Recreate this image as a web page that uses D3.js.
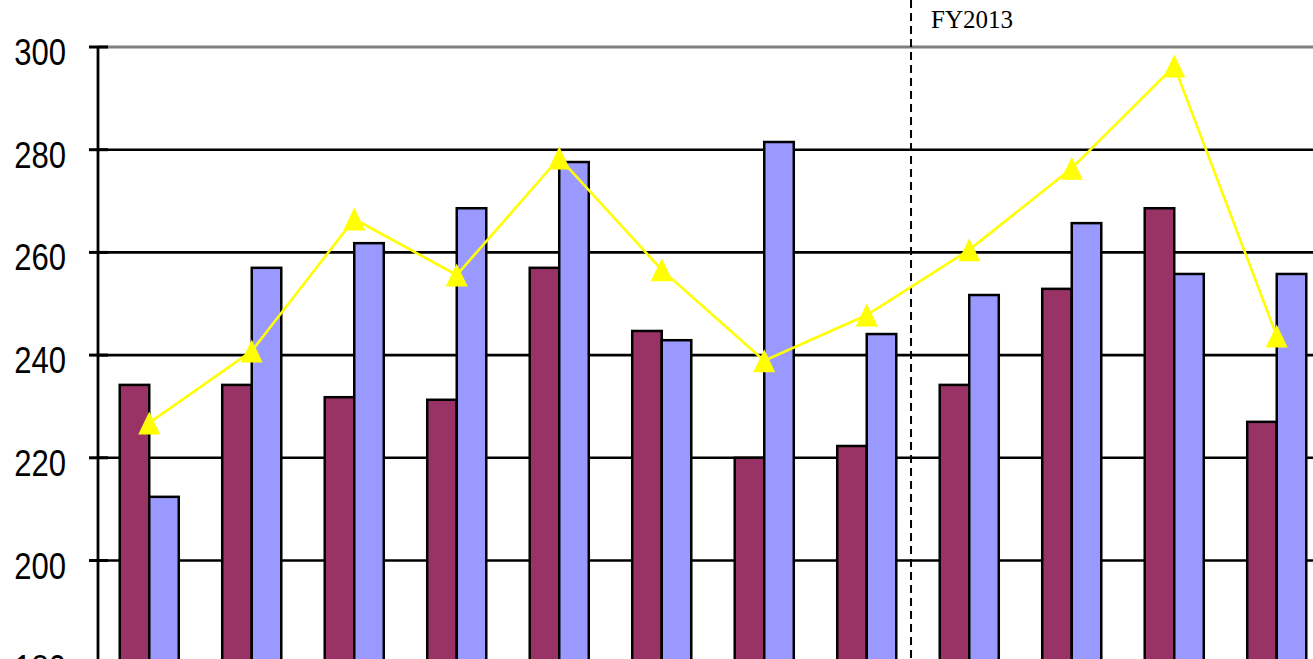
<!DOCTYPE html>
<html>
<head>
<meta charset="utf-8">
<script src="https://cdn.jsdelivr.net/npm/d3@7"></script>
<style>
  html, body { margin: 0; padding: 0; background: #ffffff; overflow: hidden; }
</style>
</head>
<body>
<div id="chart_div"></div>
<script>
// data (category labels are cut off below the visible area)
const categories = ["Aug", "Sep", "Oct", "Nov", "Dec", "Jan", "Feb", "Mar", "Apr", "May", "Jun", "Jul"];
const seriesA = [234.2, 234.2, 231.8, 231.3, 257.0, 244.7, 220.0, 222.3, 234.2, 252.9, 268.6, 227.0];
const seriesB = [212.4, 257.0, 261.8, 268.6, 277.6, 242.9, 281.5, 244.1, 251.7, 265.7, 255.8, 255.8];
const seriesLine = [226.8, 240.8, 266.5, 255.6, 278.4, 256.6, 238.9, 247.8, 260.5, 276.4, 296.3, 243.7];
const yTicks = [180, 200, 220, 240, 260, 280, 300];
const fyLabel = "FY2013";
const fyStartIndex = 8; // first category of FY2013

const width = 1313, height = 659;
const plot = { left: 98, top: 47, right: 1328, bottom: 663.2 };
const colors = { a: "#993366", b: "#9999ff", line: "#ffff00", grid: "#000000", topGrid: "#808080" };

const svg = d3.select("#chart_div")
  .append("svg")
  .attr("width", width)
  .attr("height", height);

const x = d3.scaleBand()
  .domain(categories)
  .range([plot.left, plot.right])
  .paddingInner(0.424)
  .paddingOuter(0.212);

const xSub = d3.scaleBand()
  .domain(["a", "b"])
  .range([0, x.bandwidth()]);

const y = d3.scaleLinear()
  .domain([180, 300])
  .range([plot.bottom, plot.top]);

// gridlines
svg.append("g")
  .selectAll("line.grid")
  .data(yTicks.filter((t) => t > 180))
  .join("line")
  .attr("class", "grid")
  .attr("x1", plot.left)
  .attr("x2", width)
  .attr("y1", (d) => y(d))
  .attr("y2", (d) => y(d))
  .attr("stroke", (d) => (d === 300 ? colors.topGrid : colors.grid))
  .attr("stroke-width", (d) => (d === 300 ? 3 : 2.6));

// dashed FY separator
const fyX = x(categories[fyStartIndex]) - x.step() * 0.28;
svg.append("line")
  .attr("x1", fyX)
  .attr("x2", fyX)
  .attr("y1", 0)
  .attr("y2", height)
  .attr("stroke", "#000")
  .attr("stroke-width", 2)
  .attr("stroke-dasharray", "8,5");

svg.append("text")
  .attr("x", fyX + 20)
  .attr("y", 28)
  .attr("font-family", "'Liberation Serif', 'Times New Roman', serif")
  .attr("font-size", 25)
  .attr("fill", "#000")
  .text(fyLabel);

// bars
const groups = svg.append("g")
  .selectAll("g.group")
  .data(categories.map((c, i) => ({ c, a: seriesA[i], b: seriesB[i] })))
  .join("g")
  .attr("class", "group")
  .attr("transform", (d) => `translate(${x(d.c)},0)`);

groups.selectAll("rect")
  .data((d) => [{ k: "a", v: d.a }, { k: "b", v: d.b }])
  .join("rect")
  .attr("x", (d) => xSub(d.k))
  .attr("y", (d) => y(d.v))
  .attr("width", xSub.bandwidth())
  .attr("height", (d) => y(180) - y(d.v) + 10)
  .attr("fill", (d) => colors[d.k])
  .attr("stroke", "#000")
  .attr("stroke-width", 2.5);

// line series
const cx = (i) => x(categories[i]) + x.bandwidth() / 2;

svg.append("path")
  .datum(seriesLine)
  .attr("fill", "none")
  .attr("stroke", colors.line)
  .attr("stroke-width", 2.6)
  .attr("d", d3.line().x((d, i) => cx(i)).y((d) => y(d)));

svg.append("g")
  .selectAll("path.marker")
  .data(seriesLine)
  .join("path")
  .attr("class", "marker")
  .attr("transform", (d, i) => `translate(${cx(i)},${y(d)})`)
  .attr("d", "M0,-11.5L11,11.5L-11,11.5Z")
  .attr("fill", colors.line);

// y axis
const axisG = svg.append("g");
axisG.append("line")
  .attr("x1", plot.left)
  .attr("x2", plot.left)
  .attr("y1", plot.top - 1)
  .attr("y2", height)
  .attr("stroke", "#000")
  .attr("stroke-width", 2.8);

axisG.selectAll("line.tick")
  .data(yTicks)
  .join("line")
  .attr("class", "tick")
  .attr("x1", plot.left - 9)
  .attr("x2", plot.left + 10)
  .attr("y1", (d) => y(d))
  .attr("y2", (d) => y(d))
  .attr("stroke", "#000")
  .attr("stroke-width", 3);

axisG.selectAll("text.tick-label")
  .data(yTicks)
  .join("text")
  .attr("class", "tick-label")
  .attr("transform", (d) => `translate(66,${y(d) + 18}) scale(0.84,1)`)
  .attr("text-anchor", "end")
  .attr("font-family", "'Liberation Sans', Arial, sans-serif")
  .attr("font-size", 37)
  .attr("fill", "#000")
  .text((d) => d);
</script>
</body>
</html>
